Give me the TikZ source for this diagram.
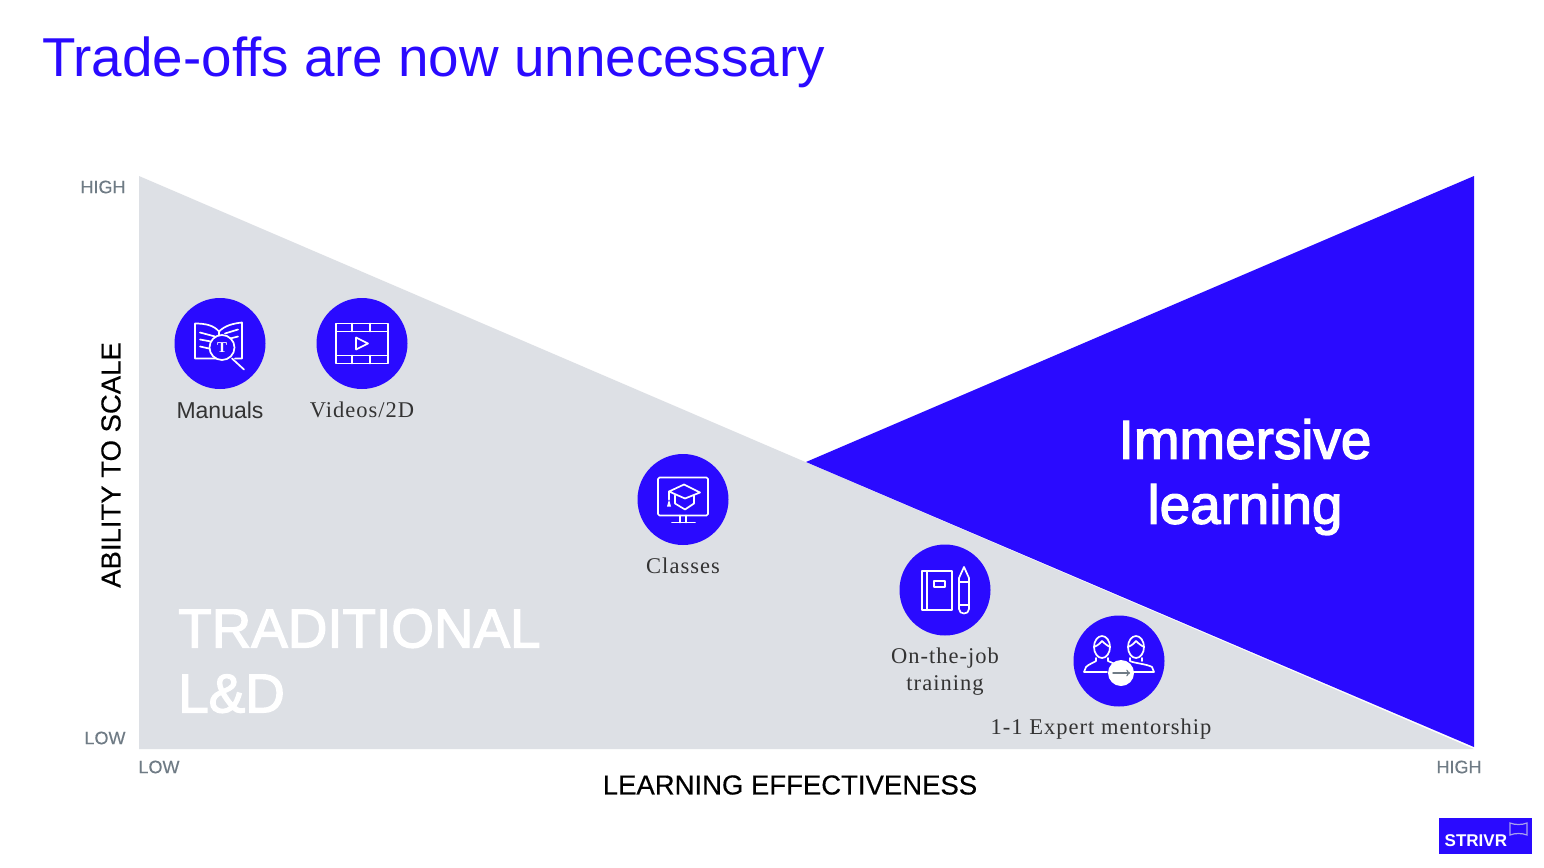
\documentclass[tikz,border=0pt]{standalone}
\usepackage{fontspec}
\setmainfont{Liberation Sans}
\newfontfamily\capfont[LetterSpace=4.5]{Liberation Serif}
\newfontfamily\bigfont[AutoFakeBold=2.4]{Liberation Sans}
\newfontfamily\tagfont[AutoFakeBold=0.3]{Liberation Sans}
\usetikzlibrary{arrows,positioning,calc}
\definecolor{strivr}{HTML}{2A0AFF}
\definecolor{panel}{HTML}{DDE0E5}
\definecolor{axisgrey}{HTML}{6F7B85}
\tikzset{
  bubble/.style={circle,fill=strivr,minimum size=91pt,inner sep=0pt},
  icon/.style={draw=white,line width=1.7pt,line join=round,line cap=round},
  caption/.style={inner sep=0pt,text=black!80,font=\fontsize{22.5}{27}\selectfont\capfont,align=center},
  ticklabel/.style={inner sep=0pt,text=axisgrey,font=\fontsize{18}{22}\selectfont\tagfont\bfseries},
  axislabel/.style={inner sep=0pt,text=black,font=\fontsize{27.5}{32}\selectfont\tagfont\bfseries},
  biglabel/.style={inner sep=0pt,text=white,align=left,font=\fontsize{54.8}{65}\selectfont\bigfont\bfseries}
}
\begin{document}
\begin{tikzpicture}[x=1pt,y=-1pt]
      \useasboundingbox (0,0) rectangle (1544,867);
      \fill[white] (0,0) rectangle (1544,867);

      \node[inner sep=0pt,anchor=west,text=strivr,font=\fontsize{54.8}{60}\selectfont] (title) at (42,62) {Trade-offs are now unnecessary};

      \fill[panel] (139,176)--(139,749)--(1474,749)--cycle;
      \fill[strivr] (806,462)--(1474,176)--(1474,747)--cycle;

      \node[ticklabel] (yhigh) at (103,187) {HIGH};
      \node[ticklabel] (ylow) at (105,738) {LOW};
      \node[ticklabel] (xlow) at (159,767) {LOW};
      \node[ticklabel] (xhigh) at (1459,767) {HIGH};
      \node[axislabel,rotate=90] (yaxis) at (111,465) {ABILITY TO SCALE};
      \node[axislabel] (xaxis) at (790,785) {LEARNING EFFECTIVENESS};

      \node[biglabel,anchor=west] (trad) at (178,661) {TRADITIONAL\\L\&D};
      \node[biglabel,align=center] (imm) at (1245,477) {Immersive\\learning};

      \node[bubble] (manuals) at (220,343.5) {};
      \node[bubble] (videos) at (362,343.5) {};
      \node[bubble] (classes) at (683,499.5) {};
      \node[bubble] (job) at (945,590) {};
      \node[bubble] (expert) at (1119,661) {};

      \node[caption,font=\fontsize{23}{27}\selectfont,below = 12.5pt of manuals] (l1) {Manuals};
      \node[caption,below = 12.5pt of videos] (l2) {Videos/2D};
      \node[caption,below = 12.5pt of classes] (l3) {Classes};
      \node[caption,below = 12pt of job] (l4) {On-the-job\\training};
      \node[caption,below = 12pt of expert,xshift=-18pt] (l5) {1-1 Expert mentorship};

      % book and lens
      \begin{scope}[shift={(manuals)},icon]
        \draw (-4,15)--(-25,15)--(-25,-20) .. controls (-14,-20) and (-6,-18) .. (-1,-12) .. controls (5,-18) and (13,-20) .. (22,-21)--(22,15)--(15,15);
        \draw (-1,-12)--(-1,-8);
        \draw (-20,-11)--(-5,-7) (-20,-4)--(-9,-2) (-20,3)--(-11,5);
        \draw (5,-10)--(18,-14) (10,-5)--(18,-7);
        \draw (2,4) circle (12.5);
        \draw (12,15)--(24,26);
        \node[inner sep=0pt,text=white,font=\fontsize{15}{15}\selectfont\bfseries\capfont] (lens) at (2,4) {T};
      \end{scope}

      % film strip
      \begin{scope}[shift={(videos)},icon]
        \draw (-26,-20) rectangle (26,20);
        \draw (-26,-12)--(26,-12) (-26,12)--(26,12);
        \draw (-10,-20)--(-10,-12) (8,-20)--(8,-12) (-10,12)--(-10,20) (8,12)--(8,20);
        \draw (-6,-6)--(-6,6)--(6,0)--cycle;
      \end{scope}

      % monitor and cap
      \begin{scope}[shift={(classes)},icon]
        \draw[rounded corners=1.5pt] (-25,-22) rectangle (25,16);
        \draw (-3,16)--(-3,23) (3,16)--(3,23) (-11,23)--(12,23);
        \draw (-14,-8)--(1,-15)--(17,-7)--(2,-1)--cycle;
        \draw (-8,-4)--(-8,4)--(2,10)--(11,4)--(11,-4);
        \draw (-14,-8)--(-14,0);
        \fill[white] (-16,7)--(-12,7)--(-14,0)--cycle;
      \end{scope}

      % notebook and pencil
      \begin{scope}[shift={(job)},icon]
        \draw (-23,-19) rectangle (7,20);
        \draw (-18,-19)--(-18,20);
        \draw (-11,-9) rectangle (0,-3);
        \draw (14,-12)--(19,-23)--(24,-12)--(24,19) .. controls (24,25) and (14,25) .. (14,19)--cycle;
        \draw (14,-8)--(24,-8) (14,15)--(24,15);
      \end{scope}

      % two people and arrow
      \begin{scope}[shift={(expert)},icon]
        \draw (-17,-14) ellipse (8 and 11);
        \draw (17,-14) ellipse (8 and 11);
        \draw (-25,-14) .. controls (-20,-16) and (-18,-19) .. (-17,-20) .. controls (-14,-17) and (-11,-15) .. (-9,-14);
        \draw (9,-14) .. controls (14,-16) and (16,-19) .. (17,-20) .. controls (20,-17) and (23,-15) .. (25,-14);
        \draw (-11,-3)--(-11,0) .. controls (-9,1) and (-6,2) .. (-4,3);
        \draw (11,-3)--(11,0) .. controls (14,2) and (28,3) .. (33,6)--(35,11)--(14,11);
        \draw (-23,-3)--(-23,0) .. controls (-26,2) and (-30,3) .. (-33,6)--(-35,11)--(-12,11);
        \draw (23,-3)--(23,0);
        \fill[white] (2,12) circle (13);
        \draw[draw=axisgrey,line width=1.4pt,->] (-6,12)--(11,12);
      \end{scope}

      \node[fill=strivr,minimum width=93pt,minimum height=36pt,inner sep=0pt] (logo) at (1485.5,836) {};
      \node[inner sep=0pt,anchor=west,text=white,font=\fontsize{17}{22}\selectfont\bfseries] (brand) at (1444.5,841) {STRIVR};
      \draw[draw=panel!70!strivr,line width=1.2pt] (1510,823) .. controls (1515,825) and (1522,825) .. (1527,823)--(1527,835) .. controls (1522,833) and (1515,833) .. (1510,835)--cycle;
    \end{tikzpicture}
\end{document}
